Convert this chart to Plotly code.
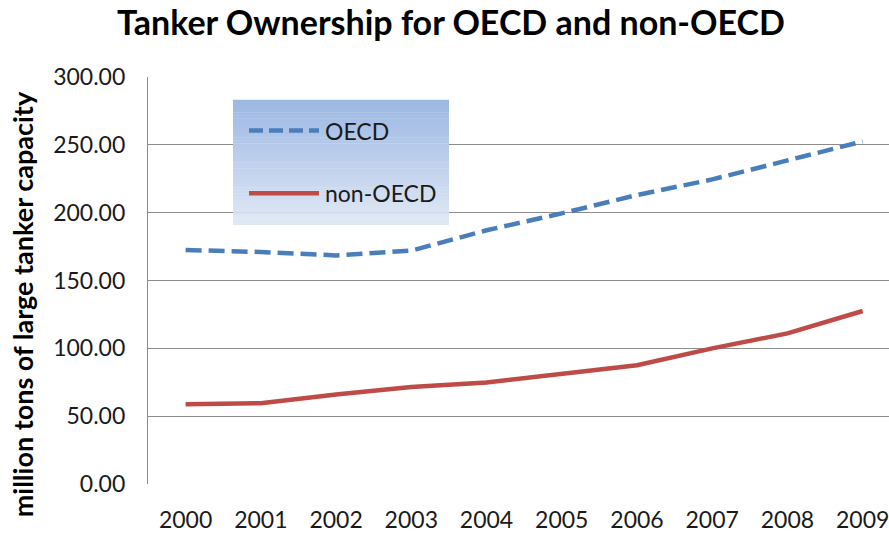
import plotly.graph_objects as go

years = [2000, 2001, 2002, 2003, 2004, 2005, 2006, 2007, 2008, 2009]
oecd = [172.5, 171.0, 168.5, 172.0, 187.0, 199.5, 213.0, 224.5, 238.5, 252.5]
non_oecd = [58.8, 59.5, 66.0, 71.5, 74.8, 80.8, 87.6, 100.0, 111.0, 127.5]
series_names = ["OECD", "non-OECD"]
y_ticks = [0, 50, 100, 150, 200, 250, 300]

FONT = "Lato"
blue = "#4a7ebb"
red = "#be4b48"
grid = "#8c8c8c"

fig = go.Figure()
fig.add_trace(go.Scatter(x=years, y=oecd, mode="lines", name=series_names[0],
                         line=dict(color=blue, width=4.5, dash="16px,7px")))
fig.add_trace(go.Scatter(x=years, y=non_oecd, mode="lines", name=series_names[1],
                         line=dict(color=red, width=4.5)))

# legend box with vertical gradient (paper coords relative to plot area)
x0, x1 = 0.1147, 0.4062
yb, yt = 0.6366, 0.9439
n = 40
top_rgb = (156, 184, 227)
bot_rgb = (224, 232, 245)
shapes = []
for i in range(n):
    f = i / (n - 1)
    c = tuple(int(round(top_rgb[k] + (bot_rgb[k] - top_rgb[k]) * f)) for k in range(3))
    ya = yt - (yt - yb) * i / n
    yb2 = yt - (yt - yb) * (i + 1) / n
    shapes.append(dict(type="rect", xref="paper", yref="paper", x0=x0, x1=x1,
                       y0=yb2 - 0.0005, y1=ya + 0.0005, fillcolor="rgb(%d,%d,%d)" % c,
                       line=dict(width=0), layer="above"))
lx0, lx1 = (249 - 148) / 741, (319 - 148) / 741
ly1, ly2 = (487 - 131) / 410, (487 - 194) / 410
shapes.append(dict(type="line", xref="paper", yref="paper", x0=lx0, x1=lx1, y0=ly1, y1=ly1,
                   line=dict(color=blue, width=4.5, dash="14px,6px"), layer="above"))
shapes.append(dict(type="line", xref="paper", yref="paper", x0=lx0, x1=lx1, y0=ly2, y1=ly2,
                   line=dict(color=red, width=4.5), layer="above"))

annotations = [
    dict(text=series_names[0], xref="paper", yref="paper", x=(323 - 148) / 741, y=ly1,
         xanchor="left", yanchor="middle", showarrow=False,
         font=dict(family=FONT, size=23, color="#1a1a1a")),
    dict(text=series_names[1], xref="paper", yref="paper", x=(323 - 148) / 741, y=ly2,
         xanchor="left", yanchor="middle", showarrow=False,
         font=dict(family=FONT, size=23, color="#1a1a1a")),
    dict(text="<b>million tons of large tanker capacity</b>", xref="paper", yref="paper",
         x=(22 - 148) / 741, y=(487 - 306) / 410, xanchor="center", yanchor="middle",
         textangle=-90, showarrow=False, font=dict(family=FONT, size=27, color="#000000")),
]

fig.update_layout(
    width=889, height=533,
    margin=dict(l=148, r=0, t=77, b=46),
    paper_bgcolor="white", plot_bgcolor="white",
    showlegend=False,
    title=dict(text="<b>Tanker Ownership for OECD and non-OECD</b>", x=451 / 889, xanchor="center",
               y=1 - 23 / 533, yanchor="middle", font=dict(family=FONT, size=34, color="#000000")),
    shapes=shapes,
    annotations=annotations,
    xaxis=dict(range=[1999.5, 2009.35], tickvals=years, ticktext=[str(y) for y in years],
               showgrid=False, zeroline=False, showline=False, ticks="",
               ticklabeloverflow="allow",
               tickfont=dict(family=FONT, size=23, color="#1a1a1a"), ticklabelstandoff=20),
    yaxis=dict(range=[0, 300], tickvals=y_ticks, tickformat=".2f", showgrid=True,
               gridcolor=grid, gridwidth=1.2, zeroline=False, showline=True, linecolor=grid,
               linewidth=1.2, ticks="", tickfont=dict(family=FONT, size=23, color="#1a1a1a"),
               ticklabelstandoff=17),
)

fig.write_html("out.html", config={"displayModeBar": False},
               post_script="document.body.style.margin='0px';document.body.style.padding='0px';")
